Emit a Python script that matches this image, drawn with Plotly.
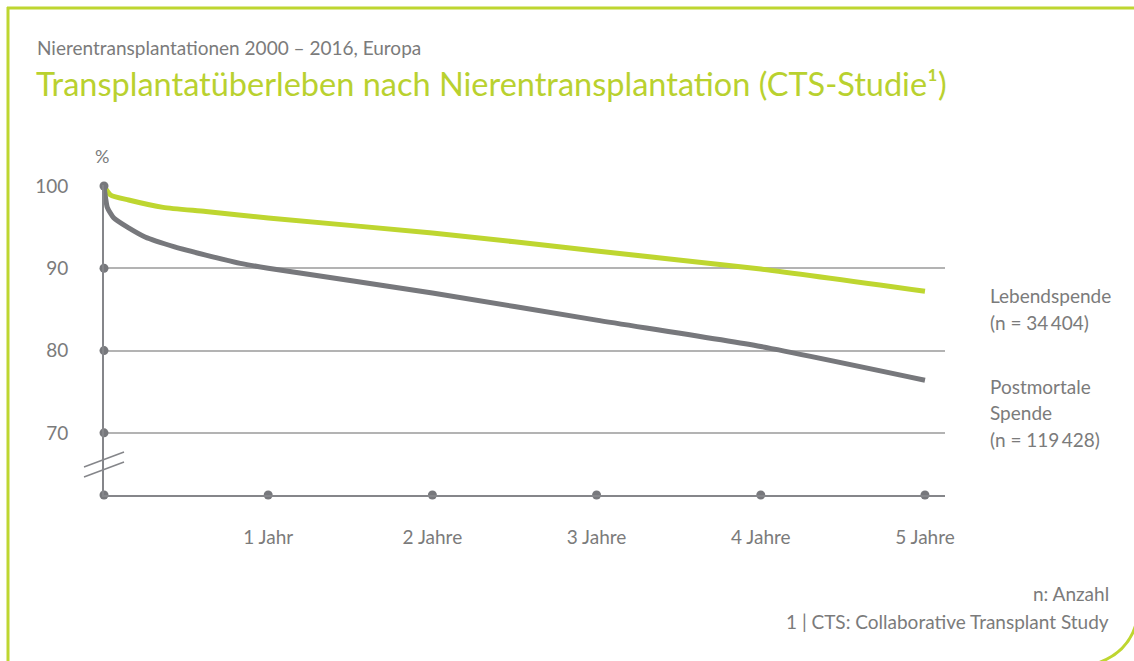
import plotly.graph_objects as go

# ---------------- data ----------------
YEARS_LEBEND = [0, 0.04, 0.15, 0.36, 0.62, 1, 2, 3, 4, 5]
LEBEND = [100, 98.9, 98.3, 97.4, 96.9, 96.1, 94.3, 92.1, 89.9, 87.2]

YEARS_POST = [0, 0.01, 0.02, 0.06, 0.15, 0.25, 0.43, 0.62, 0.83, 1, 2, 3, 4, 5]
POST = [100, 98.5, 97.4, 96.1, 94.9, 93.8, 92.6, 91.6, 90.6, 90.0, 87.0, 83.7, 80.5, 76.4]

X_TICKS = [1, 2, 3, 4, 5]
X_TICK_LABELS = ["1 Jahr", "2 Jahre", "3 Jahre", "4 Jahre", "5 Jahre"]
X_DOTS = [0, 1, 2, 3, 4, 5]
Y_TICKS = [70, 80, 90, 100]
Y_TICK_LABELS = ["70", "80", "90", "100"]

SUBTITLE = "Nierentransplantationen 2000 – 2016, Europa"
TITLE = "Transplantatüberleben nach Nierentransplantation (CTS-Studie¹)"
LABEL_LEBEND = ["Lebendspende", "(n = 34\u2009404)"]
LABEL_POST = ["Postmortale", "Spende", "(n = 119\u2009428)"]
FOOTNOTES = ["n: Anzahl", "1 | CTS: Collaborative Transplant Study"]

# ---------------- styling / layout ----------------
W_FIG, H_FIG = 1134, 661
L, R, T, B = 104, 945, 185, 495  # plot area in pixels
PW, PH = R - L, B - T
X_RANGE = [0, 5.122]
Y_RANGE = [62.45, 100.12]

GREEN = "#bed630"
GREEN_TXT = "#b9d12f"
GRAY_LINE = "#77787c"
GRAY_TXT = "#7b7b7b"
AXIS = "#85868a"
GRID = "#b3b3b3"
FONT = "Lato"
SMALL = 19


def fx(px):
    return (px - L) / PW


def fy(py):
    return (B - py) / PH


fig = go.Figure()

fig.add_trace(go.Scatter(
    x=YEARS_LEBEND, y=LEBEND, mode="lines",
    line=dict(color=GREEN, width=5, shape="spline", smoothing=0.6),
    hoverinfo="skip", showlegend=False))
fig.add_trace(go.Scatter(
    x=YEARS_POST, y=POST, mode="lines",
    line=dict(color=GRAY_LINE, width=5, shape="spline", smoothing=0.6),
    hoverinfo="skip", showlegend=False))

# tick dots
fig.add_trace(go.Scatter(
    x=[X_RANGE[0]] * len(Y_TICKS), y=Y_TICKS, mode="markers",
    marker=dict(color=GRAY_LINE, size=9), cliponaxis=False,
    hoverinfo="skip", showlegend=False))
fig.add_trace(go.Scatter(
    x=X_DOTS, y=[Y_RANGE[0]] * len(X_DOTS), mode="markers",
    marker=dict(color=GRAY_LINE, size=9), cliponaxis=False,
    hoverinfo="skip", showlegend=False))

shapes = []
# frame (top and left green border)
shapes.append(dict(type="line", xref="paper", yref="paper",
                   x0=fx(7), x1=fx(1140), y0=fy(8), y1=fy(8),
                   line=dict(color=GREEN, width=3)))
shapes.append(dict(type="line", xref="paper", yref="paper",
                   x0=fx(8), x1=fx(8), y0=fy(7), y1=fy(670),
                   line=dict(color=GREEN, width=3)))
# rounded bottom-right corner
shapes.append(dict(type="path", xref="paper", yref="paper",
                   path=f"M {fx(1098)},{fy(663)} Q {fx(1128)},{fy(652)} {fx(1136)},{fy(624)}",
                   line=dict(color=GREEN, width=3)))
# axis break marks
for dy in (0, -10):
    shapes.append(dict(type="line", xref="paper", yref="paper",
                       x0=fx(84), x1=fx(124), y0=fy(477 + dy), y1=fy(462 + dy),
                       line=dict(color=AXIS, width=1.5)))

annotations = []
annotations.append(dict(text=SUBTITLE, xref="paper", yref="paper",
                        x=fx(35), y=fy(47), xanchor="left", yanchor="middle",
                        showarrow=False, font=dict(family=FONT, size=SMALL, color=GRAY_TXT)))
annotations.append(dict(text=TITLE, xref="paper", yref="paper",
                        x=fx(34), y=fy(84), xanchor="left", yanchor="middle",
                        showarrow=False, font=dict(family=FONT, size=32.5, color=GREEN_TXT)))
annotations.append(dict(text="%", xref="paper", yref="paper",
                        x=fx(102), y=fy(156), xanchor="center", yanchor="middle",
                        showarrow=False, font=dict(family=FONT, size=SMALL - 1, color=GRAY_TXT)))

for i, t in enumerate(LABEL_LEBEND):
    annotations.append(dict(text=t, xref="paper", yref="paper",
                            x=fx(988), y=fy(295 + 27 * i), xanchor="left", yanchor="middle",
                            showarrow=False, font=dict(family=FONT, size=SMALL, color=GRAY_TXT)))
for i, t in enumerate(LABEL_POST):
    annotations.append(dict(text=t, xref="paper", yref="paper",
                            x=fx(988), y=fy(386 + 26.5 * i), xanchor="left", yanchor="middle",
                            showarrow=False, font=dict(family=FONT, size=SMALL, color=GRAY_TXT)))
for i, t in enumerate(FOOTNOTES):
    annotations.append(dict(text=t, xref="paper", yref="paper",
                            x=fx(1111), y=fy(593 + 28 * i), xanchor="right", yanchor="middle",
                            showarrow=False, font=dict(family=FONT, size=SMALL, color=GRAY_TXT)))

fig.update_layout(
    width=W_FIG, height=H_FIG,
    margin=dict(l=L, r=W_FIG - R, t=T, b=H_FIG - B, pad=0),
    paper_bgcolor="white", plot_bgcolor="white",
    shapes=shapes, annotations=annotations,
    showlegend=False,
    font=dict(family=FONT, color=GRAY_TXT),
    xaxis=dict(range=X_RANGE, tickvals=X_TICKS, ticktext=X_TICK_LABELS,
               showgrid=False, zeroline=False, showline=True,
               linecolor=AXIS, linewidth=2, ticks="",
               ticklabelstandoff=24,
               tickfont=dict(family=FONT, size=SMALL, color=GRAY_TXT),
               fixedrange=True),
    yaxis=dict(range=Y_RANGE, tickvals=Y_TICKS, ticktext=Y_TICK_LABELS,
               showgrid=True, gridcolor=GRID, gridwidth=1.5,
               zeroline=False, showline=True,
               linecolor=AXIS, linewidth=2, ticks="",
               ticklabelstandoff=30,
               tickfont=dict(family=FONT, size=SMALL, color=GRAY_TXT),
               fixedrange=True),
)

fig.write_html(
    "out.html",
    config={"displayModeBar": False},
    post_script="document.body.style.margin='0';document.body.style.overflow='hidden';",
)
